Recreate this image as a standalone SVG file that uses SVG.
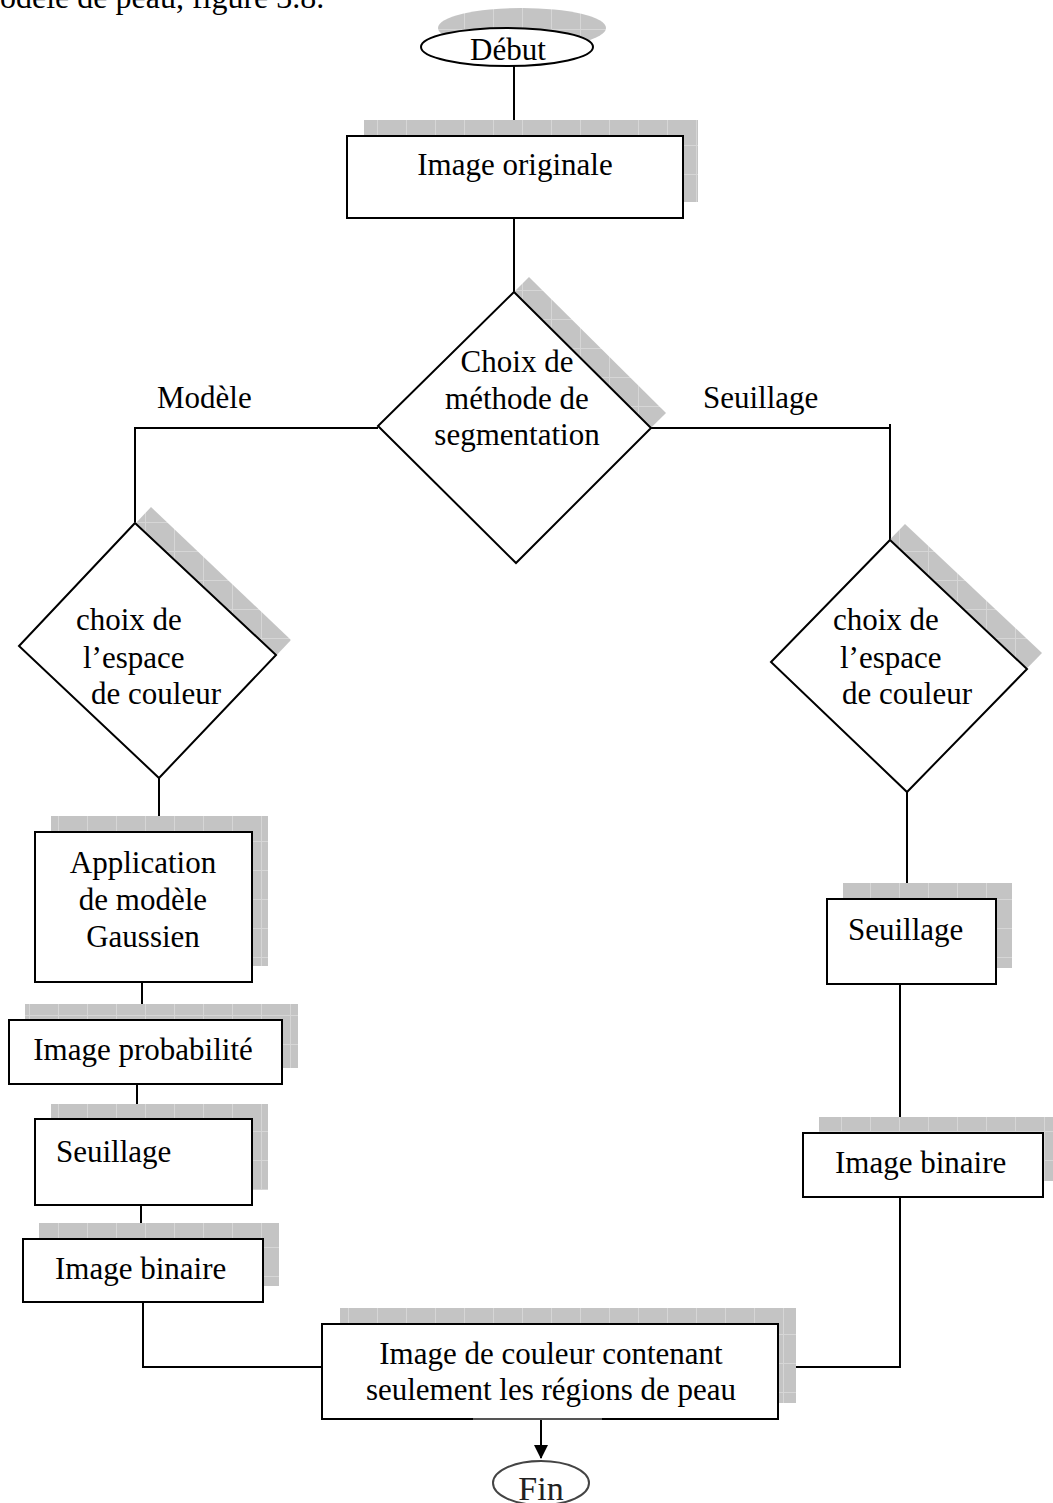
<svg xmlns="http://www.w3.org/2000/svg" width="1053" height="1503" viewBox="0 0 1053 1503">
<style>
.t{font-family:"Liberation Serif","Times New Roman",serif;font-size:31px;fill:#000}
.c{text-anchor:middle}
.n{fill:#fff;stroke:#000;stroke-width:2}
.sh{fill:url(#grid);stroke:none}
.ln{fill:none;stroke:#000;stroke-width:2}
</style>
<defs>
<pattern id="grid" width="29" height="29" patternUnits="userSpaceOnUse">
<rect width="29" height="29" fill="#c4c4c4"/>
<path d="M0 0.5H29M0.5 0V29" stroke="#d6d6d6" stroke-width="1"/>
</pattern>
<marker id="arr" markerWidth="14" markerHeight="14" refX="13" refY="7" orient="auto" markerUnits="userSpaceOnUse" viewBox="0 0 14 14">
<path d="M0 0L14 7L0 14z" fill="#000"/>
</marker>
</defs>
<rect width="1053" height="1503" fill="#fff"/>
<text class="t" x="0" y="8" style="font-size:32px">odèle de peau, figure 3.8.</text>

<g id="connectors">
<path class="ln" d="M514 66V136"/>
<path class="ln" d="M514 218V292"/>
<path class="ln" d="M378 428H135V522"/>
<path class="ln" d="M651 428H890V540"/>
<path class="ln" d="M890 428V424"/>
<path class="ln" d="M159 778V832"/>
<path class="ln" d="M142 982V1020"/>
<path class="ln" d="M137 1084V1119"/>
<path class="ln" d="M141 1205V1239"/>
<path class="ln" d="M143 1302V1367H322"/>
<path class="ln" d="M907 792V899"/>
<path class="ln" d="M900 984V1133"/>
<path class="ln" d="M900 1197V1367H778"/>
</g>

<g id="debut">
<ellipse class="sh" cx="522" cy="28" rx="84" ry="20"/>
<ellipse class="n" cx="507" cy="47" rx="86" ry="19"/>
<text class="t c" x="508" y="60">Début</text>
</g>

<g id="image-originale">
<rect class="sh" x="364" y="120" width="334" height="82"/>
<rect class="n" x="347" y="136" width="336" height="82"/>
<text class="t c" x="515" y="175">Image originale</text>
</g>

<g id="choix-methode">
<polygon class="sh" points="529,277 666,413 529,548 393,413"/>
<polygon class="n" points="514,292 651,428 516,563 378,426"/>
<text class="t c" x="517" y="372">Choix de</text>
<text class="t c" x="517" y="409">méthode de</text>
<text class="t c" x="517" y="445">segmentation</text>
</g>

<text id="label-modele" class="t" x="157" y="408">Modèle</text>
<text id="label-seuillage" class="t" x="703" y="408">Seuillage</text>

<g id="choix-espace-gauche">
<polygon class="sh" points="151,507 291,640 175,762 35,630"/>
<polygon class="n" points="135,523 276,655 159,778 19,646"/>
<text class="t" x="76" y="630">choix de</text>
<text class="t" x="83" y="668">l’espace</text>
<text class="t" x="91" y="704">de couleur</text>
</g>

<g id="choix-espace-droite">
<polygon class="sh" points="905,524 1042,653 922,776 786,646"/>
<polygon class="n" points="890,540 1027,669 907,792 771,662"/>
<text class="t" x="833" y="630">choix de</text>
<text class="t" x="840" y="668">l’espace</text>
<text class="t" x="842" y="704">de couleur</text>
</g>

<g id="application">
<rect class="sh" x="51" y="816" width="217" height="150"/>
<rect class="n" x="35" y="832" width="217" height="150"/>
<text class="t c" x="143" y="873">Application</text>
<text class="t c" x="143" y="910">de modèle</text>
<text class="t c" x="143" y="947">Gaussien</text>
</g>

<g id="image-probabilite">
<rect class="sh" x="25" y="1004" width="273" height="64"/>
<rect class="n" x="9" y="1020" width="273" height="64"/>
<text class="t c" x="143" y="1060">Image probabilité</text>
</g>

<g id="seuillage-gauche">
<rect class="sh" x="51" y="1104" width="217" height="86"/>
<rect class="n" x="35" y="1119" width="217" height="86"/>
<text class="t" x="56" y="1162">Seuillage</text>
</g>

<g id="binaire-gauche">
<rect class="sh" x="39" y="1223" width="240" height="63"/>
<rect class="n" x="23" y="1239" width="240" height="63"/>
<text class="t" x="55" y="1279">Image binaire</text>
</g>

<g id="seuillage-droite">
<rect class="sh" x="843" y="883" width="169" height="85"/>
<rect class="n" x="827" y="899" width="169" height="85"/>
<text class="t" x="848" y="940">Seuillage</text>
</g>

<g id="binaire-droite">
<rect class="sh" x="819" y="1117" width="240" height="64"/>
<rect class="n" x="803" y="1133" width="240" height="64"/>
<text class="t" x="835" y="1173">Image binaire</text>
</g>

<g id="resultat">
<rect class="sh" x="340" y="1308" width="456" height="95"/>
<rect class="n" x="322" y="1324" width="456" height="95"/>
<text class="t c" x="551" y="1364">Image de couleur contenant</text>
<text class="t c" x="551" y="1400">seulement les régions de peau</text>
</g>

<g id="fin">
<rect x="473" y="1420" width="129" height="83" fill="#fff"/>
<path d="M473 1419H602" stroke="#555" stroke-width="2"/>
<path class="ln" d="M541 1420V1458" marker-end="url(#arr)"/>
<ellipse cx="541" cy="1483" rx="48" ry="22" fill="#fff" stroke="#444" stroke-width="2"/>
<text x="541" y="1500" text-anchor="middle" style="font-family:'Liberation Serif','Times New Roman',serif;font-size:34px;fill:#222">Fin</text>
</g>
</svg>
